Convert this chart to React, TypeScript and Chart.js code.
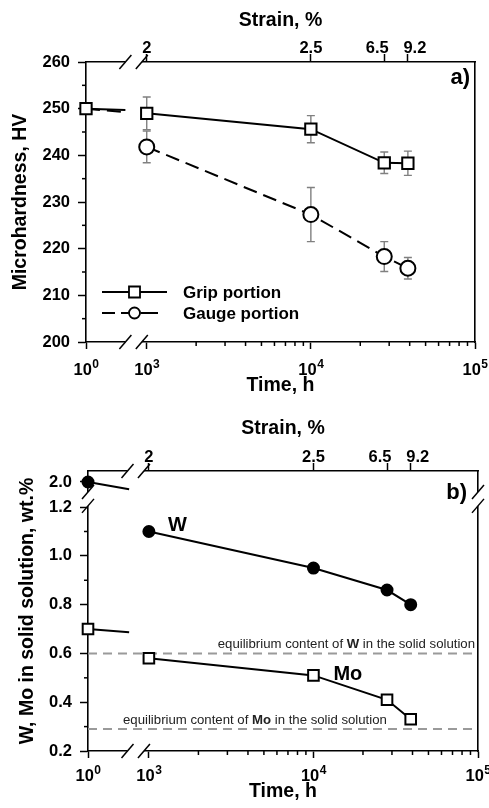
import React, { useEffect, useRef } from 'react';
import { Chart, registerables } from 'chart.js';

Chart.register(...registerables);

const FONT = '"Liberation Sans", Arial, Helvetica, sans-serif';

// ---------------- data ----------------
const INITIAL_TIME_H = 1;
const TIME_H = [1000, 10000, 28000, 39000];
const STRAIN_LABELS = ['2', '2.5', '6.5', '9.2'];
const TIME_MAJOR = [1, 1000, 10000, 100000];
const TIME_MAJOR_BASE = ['10', '10', '10', '10'];
const TIME_MAJOR_EXP = ['0', '3', '4', '5'];
const TIME_MINOR = [2000, 3000, 4000, 5000, 6000, 7000, 8000, 9000, 20000, 30000, 40000, 50000, 60000, 70000, 80000, 90000];

const INITIAL_HV = 250;
const GRIP_HV = [249.0, 245.6, 238.4, 238.3];
const GRIP_ERR = [3.5, 2.9, 2.3, 2.6];
const GAUGE_HV = [241.8, 227.3, 218.3, 215.8];
const GAUGE_ERR = [3.4, 5.8, 3.2, 2.3];
const GRIP_AT_BREAK = 249.7;
const GAUGE_AT_BREAK = 249.3;
const HV_MAJOR = [200, 210, 220, 230, 240, 250, 260];
const HV_MINOR = [205, 215, 225, 235, 245, 255];

const INITIAL_W = 2.0;
const INITIAL_MO = 0.7;
const W_WT = [1.1, 0.95, 0.86, 0.8];
const MO_WT = [0.58, 0.51, 0.41, 0.33];
const W_AT_BREAK = 1.97;
const MO_AT_BREAK = 0.687;
const EQ_W = 0.6;
const EQ_MO = 0.29;
const WT_MAJOR = [0.2, 0.4, 0.6, 0.8, 1.0, 1.2, 2.0];
const WT_MINOR = [0.3, 0.5, 0.7, 0.9, 1.1];

// ---------------- broken-axis transforms ----------------
const X_ORIGIN = 2.63; // axis position of 10^0
const X_MAX = 5;
const X_GAP = [2.87, 2.97];
const tx = (t: number) => (t <= 1 ? X_ORIGIN : Math.log10(t));
const WT_MIN = 0.2;
const WT_MAX = 1.348;
const WT_GAP = [1.205, 1.262];
const WT_UPPER_OFFSET = 0.697;
const ty = (v: number) => (v >= 1.9 ? v - WT_UPPER_OFFSET : v);

// label nudges (pixels) so that crowded strain labels do not touch
const STRAIN_NUDGE = [0, 0, -7, 7];

const near = (a: number, b: number) => Math.abs(a - b) < 1e-6;

const TICK_SIZE = 16.5;
const tickFont = { family: FONT, size: TICK_SIZE, weight: 'bold' as const };
const titleFont = { family: FONT, size: 19.5, weight: 'bold' as const };
const border = { display: true, color: '#000', width: 1.6 };

type Geom = { left: number; right: number; top: number; bottom: number; W: number; H: number };
type Opts = {
  xTitlePad: number; topTitlePad: number; yTitlePad: number; yTickPad: number;
  yTitle: string; yMin: number; yMax: number; yMajor: number[]; yMinor: number[];
  yMap: (v: number) => number; yLabel: (v: number) => string;
};

function makeScales(g: Geom, o: Opts): any {
  const majX = TIME_MAJOR.map(tx);
  const majY = o.yMajor.map(o.yMap);
  return {
    x: {
      type: 'linear', position: 'bottom', min: X_ORIGIN, max: X_MAX, bounds: 'data',
      afterBuildTicks: (s: any) => {
        s.ticks = [...TIME_MAJOR, ...TIME_MINOR].map(tx).sort((a, b) => a - b).map((v) => ({ value: v }));
      },
      afterFit: (s: any) => { s.height = g.H - g.bottom; s.paddingLeft = 0; s.paddingRight = 0; },
      ticks: { display: false, autoSkip: false },
      grid: {
        drawOnChartArea: false, drawTicks: true, tickLength: 7, tickWidth: 1.5,
        tickColor: (c: any) => (c.tick && majX.some((m) => near(m, c.tick.value)) ? '#000' : 'rgba(0,0,0,0)'),
      },
      border,
      title: { display: true, text: 'Time, h', color: '#000', font: titleFont, padding: { top: 0, bottom: o.xTitlePad } },
    },
    xTop: {
      type: 'linear', position: 'top', min: X_ORIGIN, max: X_MAX, bounds: 'data',
      afterBuildTicks: (s: any) => { s.ticks = TIME_H.map((t) => ({ value: tx(t) })); },
      afterFit: (s: any) => { s.height = g.top; s.paddingLeft = 0; s.paddingRight = 0; },
      ticks: { display: false, autoSkip: false },
      grid: { drawOnChartArea: false, drawTicks: true, tickLength: 8, tickWidth: 1.5, tickColor: '#000' },
      border,
      title: { display: true, text: 'Strain, %', color: '#000', font: titleFont, padding: { top: o.topTitlePad, bottom: 0 } },
    },
    y: {
      type: 'linear', position: 'left', min: o.yMin, max: o.yMax, bounds: 'data',
      afterBuildTicks: (s: any) => {
        s.ticks = [...o.yMajor, ...o.yMinor].map(o.yMap).sort((a, b) => a - b).map((v) => ({ value: v }));
      },
      afterFit: (s: any) => { s.width = g.left; s.paddingTop = 0; s.paddingBottom = 0; },
      ticks: {
        autoSkip: false, padding: o.yTickPad, font: tickFont, color: '#000',
        callback: (v: number) => {
          const i = majY.findIndex((m) => near(m, v));
          return i >= 0 ? o.yLabel(o.yMajor[i]) : '';
        },
      },
      grid: {
        drawOnChartArea: false, drawTicks: true, tickLength: 8, tickWidth: 1.5,
        tickColor: (c: any) => (c.tick && majY.some((m) => near(m, c.tick.value)) ? '#000' : 'rgba(0,0,0,0)'),
      },
      border,
      title: { display: true, text: o.yTitle, color: '#000', font: titleFont, padding: { top: o.yTitlePad, bottom: 0 } },
    },
    yR: {
      type: 'linear', position: 'right', min: o.yMin, max: o.yMax,
      afterFit: (s: any) => { s.width = g.W - g.right; s.paddingTop = 0; s.paddingBottom = 0; },
      ticks: { display: false },
      grid: { drawOnChartArea: false, drawTicks: false },
      border,
    },
  };
}

function slash(ctx: CanvasRenderingContext2D, x: number, y: number) {
  ctx.beginPath();
  ctx.moveTo(x - 6, y + 7);
  ctx.lineTo(x + 6, y - 7);
  ctx.stroke();
}

function decoPlugin(minorX: number[], minorY: number[], yGap: number[] | null, bottomBaseline: number, topBaseline: number) {
  return {
    id: 'deco',
    beforeDatasetsDraw(chart: any) {
      const { ctx, chartArea: ca, scales } = chart;
      const xs = scales.x;
      const ys = scales.y;
      ctx.save();
      ctx.strokeStyle = '#000';
      ctx.lineWidth = 1.5;
      // minor tick marks
      minorX.forEach((v) => {
        const px = xs.getPixelForValue(v);
        ctx.beginPath(); ctx.moveTo(px, ca.bottom); ctx.lineTo(px, ca.bottom + 4); ctx.stroke();
      });
      minorY.forEach((v) => {
        const py = ys.getPixelForValue(v);
        ctx.beginPath(); ctx.moveTo(ca.left - 4, py); ctx.lineTo(ca.left, py); ctx.stroke();
      });
      // axis breaks
      const g0 = xs.getPixelForValue(X_GAP[0]);
      const g1 = xs.getPixelForValue(X_GAP[1]);
      [ca.top, ca.bottom].forEach((yy: number) => {
        ctx.fillStyle = '#fff';
        ctx.fillRect(g0, yy - 2.5, g1 - g0, 5);
        slash(ctx, g0, yy);
        slash(ctx, g1, yy);
      });
      if (yGap) {
        const h0 = ys.getPixelForValue(yGap[1]);
        const h1 = ys.getPixelForValue(yGap[0]);
        [ca.left, ca.right].forEach((xx: number) => {
          ctx.fillStyle = '#fff';
          ctx.fillRect(xx - 2.5, h0, 5, h1 - h0);
          slash(ctx, xx, h0);
          slash(ctx, xx, h1);
        });
      }
      // error bars
      ctx.strokeStyle = '#808080';
      ctx.lineWidth = 1.4;
      chart.data.datasets.forEach((ds: any, i: number) => {
        if (!ds.errors) return;
        const meta = chart.getDatasetMeta(i);
        meta.data.forEach((pt: any, j: number) => {
          const e = ds.errors[j];
          const v = ds.data[j].y;
          const yt = ys.getPixelForValue(v + e);
          const yb = ys.getPixelForValue(v - e);
          ctx.beginPath();
          ctx.moveTo(pt.x, yt); ctx.lineTo(pt.x, yb);
          ctx.moveTo(pt.x - 4, yt); ctx.lineTo(pt.x + 4, yt);
          ctx.moveTo(pt.x - 4, yb); ctx.lineTo(pt.x + 4, yb);
          ctx.stroke();
        });
      });
      ctx.restore();
    },
    afterDraw(chart: any) {
      const { ctx, chartArea: ca, scales } = chart;
      const xs = scales.x;
      ctx.save();
      ctx.fillStyle = '#000';
      ctx.textBaseline = 'alphabetic';
      // time tick labels: 10 with superscript exponent
      const baseFont = `bold ${TICK_SIZE}px ${FONT}`;
      const expFont = `bold 12px ${FONT}`;
      TIME_MAJOR.forEach((t, i) => {
        const px = xs.getPixelForValue(tx(t));
        ctx.font = baseFont;
        const wb = ctx.measureText(TIME_MAJOR_BASE[i]).width;
        ctx.font = expFont;
        const we = ctx.measureText(TIME_MAJOR_EXP[i]).width;
        const x0 = px - (wb + we) / 2;
        const yb = ca.bottom + bottomBaseline;
        ctx.textAlign = 'left';
        ctx.font = baseFont;
        ctx.fillText(TIME_MAJOR_BASE[i], x0, yb);
        ctx.font = expFont;
        ctx.fillText(TIME_MAJOR_EXP[i], x0 + wb + 0.5, yb - 7);
      });
      // strain tick labels on the top axis
      ctx.font = baseFont;
      ctx.textAlign = 'center';
      TIME_H.forEach((t, i) => {
        const px = xs.getPixelForValue(tx(t));
        ctx.fillText(STRAIN_LABELS[i], px + STRAIN_NUDGE[i], ca.top - topBaseline);
      });
      ctx.restore();
    },
  };
}

const baseLine = {
  borderColor: '#000', borderWidth: 2, tension: 0, fill: false, clip: false,
  pointBorderColor: '#000', pointBorderWidth: 2, pointBackgroundColor: '#fff',
};

function buildA(): any {
  const g: Geom = { left: 86, right: 475, top: 62, bottom: 342, W: 489, H: 404 };
  const datasets: any[] = [
    {
      ...baseLine, label: 'initial grip',
      data: [{ x: tx(INITIAL_TIME_H), y: INITIAL_HV }, { x: X_GAP[0], y: GRIP_AT_BREAK }],
      pointStyle: 'rect', pointRadius: [8, 0], order: 0,
    },
    {
      ...baseLine, label: 'Grip portion',
      data: TIME_H.map((t, i) => ({ x: tx(t), y: GRIP_HV[i] })), errors: GRIP_ERR,
      pointStyle: 'rect', pointRadius: 8, order: 1,
    },
    {
      ...baseLine, label: 'Gauge portion',
      data: TIME_H.map((t, i) => ({ x: tx(t), y: GAUGE_HV[i] })), errors: GAUGE_ERR,
      borderDash: [14, 7], pointStyle: 'circle', pointRadius: 7.5, order: 2,
    },
    {
      ...baseLine, label: 'initial gauge',
      data: [{ x: tx(INITIAL_TIME_H), y: INITIAL_HV }, { x: X_GAP[0] - 0.015, y: GAUGE_AT_BREAK }],
      borderDash: [14, 7], borderDashOffset: 0, pointRadius: 0, order: 3,
    },
  ];
  const annot = {
    id: 'annotA',
    afterDatasetsDraw(chart: any) {
      const { ctx, chartArea: ca } = chart;
      ctx.save();
      ctx.fillStyle = '#000';
      ctx.font = `bold 22px ${FONT}`;
      ctx.textAlign = 'right';
      ctx.textBaseline = 'middle';
      ctx.fillText('a)', ca.right - 5, ca.top + 16);
      // legend
      const rows = [chart.data.datasets[1], chart.data.datasets[2]];
      rows.forEach((ds: any, k: number) => {
        const y = ca.bottom - 50 + k * 21;
        const x0 = ca.left + 16;
        const xm = ca.left + 48.5;
        const x1 = ca.left + 81;
        ctx.strokeStyle = '#000';
        ctx.lineWidth = 2;
        ctx.beginPath();
        if (k === 0) {
          ctx.moveTo(x0, y); ctx.lineTo(x1, y);
        } else {
          ctx.moveTo(x0, y); ctx.lineTo(x0 + 13, y);
          ctx.moveTo(x0 + 19, y); ctx.lineTo(xm, y);
          ctx.moveTo(xm + 6, y); ctx.lineTo(x1 - 9, y);
        }
        ctx.stroke();
        ctx.fillStyle = '#fff';
        ctx.lineWidth = 1.8;
        ctx.beginPath();
        if (k === 0) ctx.rect(xm - 5.5, y - 5.5, 11, 11);
        else ctx.arc(xm, y, 5.5, 0, Math.PI * 2);
        ctx.fill();
        ctx.stroke();
        ctx.fillStyle = '#000';
        ctx.font = `bold 17px ${FONT}`;
        ctx.textAlign = 'left';
        ctx.textBaseline = 'middle';
        ctx.fillText(ds.label, ca.left + 97, y + 1);
      });
      ctx.restore();
    },
  };
  return {
    type: 'line',
    data: { datasets },
    options: {
      responsive: false, animation: false, events: [],
      layout: { padding: 0 },
      plugins: { legend: { display: false }, tooltip: { enabled: false } },
      scales: makeScales(g, {
        xTitlePad: 6.3, topTitlePad: 9.3, yTitlePad: 8.8, yTickPad: 8,
        yTitle: 'Microhardness, HV', yMin: 200, yMax: 260, yMajor: HV_MAJOR, yMinor: HV_MINOR,
        yMap: (v) => v, yLabel: (v) => String(v),
      }),
    },
    plugins: [decoPlugin(TIME_MINOR.map(tx), HV_MINOR, null, 32.5, 9), annot],
  };
}

function drawRich(ctx: CanvasRenderingContext2D, parts: [string, boolean][], x: number, y: number, align: 'left' | 'right') {
  const fonts = parts.map(([, b]) => `${b ? 'bold ' : ''}13.2px ${FONT}`);
  const widths = parts.map(([t], i) => { ctx.font = fonts[i]; return ctx.measureText(t).width; });
  const total = widths.reduce((a, b) => a + b, 0);
  let cx = align === 'left' ? x : x - total;
  ctx.textAlign = 'left';
  ctx.textBaseline = 'alphabetic';
  parts.forEach(([t], i) => { ctx.font = fonts[i]; ctx.fillText(t, cx, y); cx += widths[i]; });
}

function buildB(): any {
  const g: Geom = { left: 88, right: 478, top: 67, bottom: 347, W: 489, H: 404 };
  const eqStyle = { borderColor: '#9a9a9a', borderWidth: 2, borderDash: [9, 6], pointRadius: 0, tension: 0, fill: false, clip: false };
  const datasets: any[] = [
    {
      ...baseLine, label: 'initial W',
      data: [{ x: tx(INITIAL_TIME_H), y: ty(INITIAL_W) }, { x: X_GAP[0] + 0.01, y: ty(W_AT_BREAK) }],
      pointStyle: 'circle', pointRadius: [5.5, 0], pointBackgroundColor: '#000', order: 0,
    },
    {
      ...baseLine, label: 'W',
      data: TIME_H.map((t, i) => ({ x: tx(t), y: ty(W_WT[i]) })),
      pointStyle: 'circle', pointRadius: 5.5, pointBackgroundColor: '#000', order: 1,
    },
    {
      ...baseLine, label: 'initial Mo',
      data: [{ x: tx(INITIAL_TIME_H), y: ty(INITIAL_MO) }, { x: X_GAP[0] + 0.01, y: ty(MO_AT_BREAK) }],
      pointStyle: 'rect', pointRadius: [7.5, 0], order: 0,
    },
    {
      ...baseLine, label: 'Mo',
      data: TIME_H.map((t, i) => ({ x: tx(t), y: ty(MO_WT[i]) })),
      pointStyle: 'rect', pointRadius: 7.5, order: 1,
    },
    { ...eqStyle, label: 'eq W', data: [{ x: X_ORIGIN, y: EQ_W }, { x: X_MAX, y: EQ_W }], order: 5 },
    { ...eqStyle, label: 'eq Mo', data: [{ x: X_ORIGIN, y: EQ_MO }, { x: X_MAX, y: EQ_MO }], order: 5 },
  ];
  const annot = {
    id: 'annotB',
    afterDatasetsDraw(chart: any) {
      const { ctx, chartArea: ca, scales } = chart;
      const ys = scales.y;
      ctx.save();
      ctx.fillStyle = '#000';
      ctx.font = `bold 22px ${FONT}`;
      ctx.textAlign = 'right';
      ctx.textBaseline = 'middle';
      ctx.fillText('b)', ca.right - 11, ca.top + 22);
      const wPt = chart.getDatasetMeta(1).data[0];
      const moPt = chart.getDatasetMeta(3).data[1];
      ctx.font = `bold 20px ${FONT}`;
      ctx.textAlign = 'left';
      ctx.fillText('W', wPt.x + 19, wPt.y - 6);
      ctx.fillText('Mo', moPt.x + 20, moPt.y - 1);
      ctx.fillStyle = '#222';
      drawRich(ctx, [['equilibrium content of ', false], ['W', true], [' in the solid solution', false]],
        ca.right - 3, ys.getPixelForValue(EQ_W) - 5, 'right');
      drawRich(ctx, [['equilibrium content of ', false], ['Mo', true], [' in the solid solution', false]],
        ca.left + 35, ys.getPixelForValue(EQ_MO) - 5, 'left');
      ctx.restore();
    },
  };
  return {
    type: 'line',
    data: { datasets },
    options: {
      responsive: false, animation: false, events: [],
      layout: { padding: 0 },
      plugins: { legend: { display: false }, tooltip: { enabled: false } },
      scales: makeScales(g, {
        xTitlePad: 4.3, topTitlePad: 12.8, yTitlePad: 15.8, yTickPad: 8,
        yTitle: 'W, Mo in solid solution, wt.%', yMin: WT_MIN, yMax: WT_MAX, yMajor: WT_MAJOR, yMinor: WT_MINOR,
        yMap: ty, yLabel: (v) => v.toFixed(1),
      }),
    },
    plugins: [decoPlugin(TIME_MINOR.map(tx), WT_MINOR, WT_GAP, 29.5, 9), annot],
  };
}

function Panel({ build, top }: { build: () => any; top: number }) {
  const ref = useRef<HTMLCanvasElement>(null);
  useEffect(() => {
    if (!ref.current) return;
    const chart = new Chart(ref.current, build());
    return () => chart.destroy();
  }, [build]);
  return (
    <canvas
      ref={ref}
      width={489}
      height={404}
      style={{ position: 'absolute', left: 0, top, width: 489, height: 404 }}
    />
  );
}

export default function App() {
  return (
    <div style={{ position: 'absolute', left: 0, top: 0, width: 489, height: 808, background: '#fff' }}>
      <Panel build={buildA} top={0} />
      <Panel build={buildB} top={404} />
    </div>
  );
}
